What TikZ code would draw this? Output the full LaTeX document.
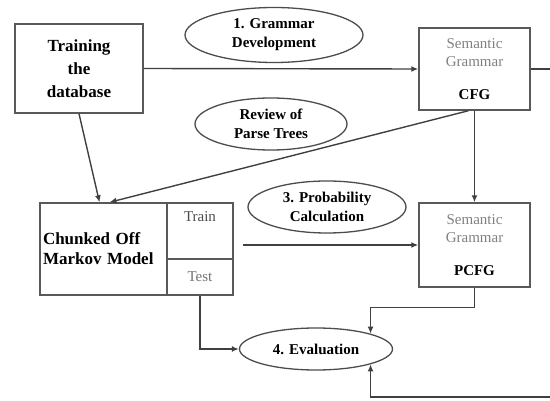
\documentclass[tikz,border=0pt]{standalone}
\usepackage{fontspec}
\setmainfont{Liberation Serif}
\usetikzlibrary{arrows.meta,calc,positioning,shapes.geometric}
\tikzstyle{box} = [rectangle, draw=black!65, line width=1.4pt, inner sep=2pt, align=center]
\tikzstyle{stage} = [ellipse, draw=black!70, line width=1.3pt, inner sep=0pt, align=center,
font=\bfseries\fontsize{15}{19}\selectfont]
\tikzstyle{arrow} = [-{Latex[length=7pt,width=6pt]}, line width=1.4pt, draw=black!75]

\begin{document}
\begin{tikzpicture}[x=1pt, y=-1pt]
	\useasboundingbox (0,0) rectangle (550,401);
	
	% ---- 1. boxes ----
	\node[box, minimum width=128pt, minimum height=89pt, font=\bfseries\fontsize{17}{23}\selectfont]
	(train) at (79,68.5) {Training\\the\\database};
	\node[box, minimum width=111pt, minimum height=82pt, text=black!50, font=\fontsize{15}{18}\selectfont]
	(cfg) at (474.5,69) {Semantic\\Grammar\\[15pt]\textcolor{black}{\textbf{CFG}}};
	\node[box, minimum width=111pt, minimum height=84pt, text=black!50, font=\fontsize{15}{18}\selectfont]
	(pcfg) at (474.5,245) {Semantic\\Grammar\\[15pt]\textcolor{black}{\textbf{PCFG}}};
	
	% chunked off markov model, with its two cells
	\node[box, minimum width=127pt, minimum height=92pt, align=left, text width=121pt,
	font=\bfseries\fontsize{17}{20}\selectfont]
	(chunk) at (103.5,249) {Chunked Off\\Markov Model};
	\node[box, minimum width=66pt, minimum height=56pt,
	label={[name=trainlbl, anchor=north, text=black!70, font=\fontsize{15}{18}\selectfont, yshift=-6pt]north:Train}]
	(trainc) at (200,231) {};
	\node[box, minimum width=66pt, minimum height=36pt, text=black!55, font=\fontsize{15}{18}\selectfont]
	(testc) at (200,277) {Test};
	
	% ---- 2. stages ----
	\node[stage, minimum width=178pt, minimum height=55pt] (grammar) at (274,35) {1. Grammar\\Development};
	\node[stage, minimum width=152pt, minimum height=52pt] (review) at (271,124) {Review of\\Parse Trees};
	\node[stage, minimum width=158pt, minimum height=52pt] (prob) at (327,207) {3. Probability\\Calculation};
	\node[stage, minimum width=153pt, minimum height=42pt] (eval) at (316,349) {4. Evaluation};
	
	% ---- 3. connectors ----
	\draw[arrow] (train.east) -- (cfg.west);
	\draw[arrow] (train.south) -- ([xshift=-4pt]chunk.north);
	\draw[arrow] ([xshift=-6pt]cfg.south) -- ([xshift=6pt]chunk.north);
	\draw[arrow] (cfg.south) -- (pcfg.north);
	
	\coordinate (probstart) at (243,245);
	\draw[arrow] (probstart) -- (pcfg.west);
	
	\draw[arrow] (pcfg.south) -- ++(0,20) -| (eval.north east);
	\draw[arrow] (testc.south) |- (eval.west);
	
	% goes off the right edge and comes back
	\coordinate (rtop) at (554,69);
	\coordinate (rbot) at (554,397);
	\draw[arrow] (cfg.east) -- (rtop) -- (rbot) -| (eval.south east);
	
\end{tikzpicture}
\end{document}
